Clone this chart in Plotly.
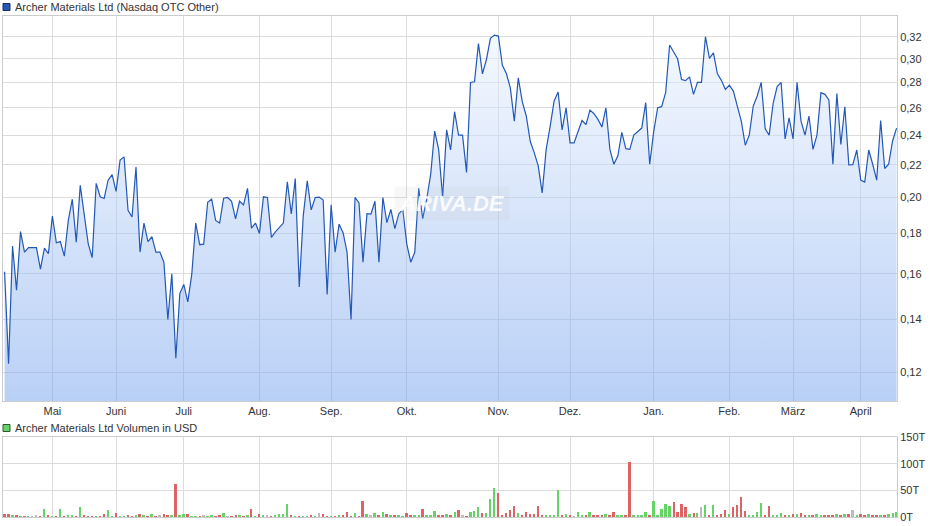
import math
import plotly.graph_objects as go

# ---------------- data ----------------
price = [
    0.161, 0.123, 0.1735, 0.1525, 0.181, 0.1705, 0.1727, 0.1727, 0.1727, 0.1622,
    0.1725, 0.1697, 0.1894, 0.1752, 0.1758, 0.1685, 0.187, 0.199, 0.1755, 0.2072,
    0.1898, 0.1747, 0.1677, 0.2084, 0.2004, 0.1994, 0.2104, 0.2138, 0.2036, 0.2231,
    0.2252, 0.1926, 0.1889, 0.2186, 0.1705, 0.1856, 0.1758, 0.1783, 0.1705, 0.1705,
    0.1655, 0.140, 0.160, 0.125, 0.151, 0.1551, 0.1474, 0.1597, 0.1856, 0.1742,
    0.1745, 0.1972, 0.1991, 0.187, 0.1856, 0.1996, 0.200, 0.1978, 0.1879, 0.1978,
    0.1957, 0.2054, 0.1828, 0.1856, 0.180, 0.2004, 0.200, 0.178, 0.1809, 0.1835,
    0.1856, 0.2094, 0.1906, 0.2114, 0.154, 0.1897, 0.210, 0.1929, 0.200, 0.2002,
    0.1985, 0.1506, 0.1957, 0.1704, 0.185, 0.1804, 0.1704, 0.140, 0.200, 0.1968,
    0.1655, 0.1908, 0.1905, 0.1978, 0.1655, 0.200, 0.1858, 0.1931, 0.1826, 0.1907,
    0.1931, 0.1745, 0.1655, 0.1704, 0.2054, 0.188, 0.199, 0.214, 0.2429, 0.2302,
    0.200, 0.2437, 0.2298, 0.257, 0.240, 0.240, 0.2152, 0.280, 0.2805, 0.3136,
    0.2871, 0.2994, 0.3185, 0.3215, 0.3206, 0.2943, 0.2874, 0.2756, 0.250, 0.2837,
    0.2647, 0.2538, 0.2357, 0.228, 0.2194, 0.2027, 0.2302, 0.2462, 0.2652, 0.2722,
    0.2437, 0.260, 0.2346, 0.2346, 0.243, 0.2505, 0.2475, 0.2582, 0.2555, 0.2513,
    0.2457, 0.260, 0.2302, 0.2204, 0.2259, 0.242, 0.2307, 0.2302, 0.240, 0.2425,
    0.245, 0.2639, 0.2204, 0.2425, 0.260, 0.2608, 0.2717, 0.3124, 0.3061, 0.300,
    0.2823, 0.2815, 0.2846, 0.2704, 0.280, 0.280, 0.320, 0.3003, 0.3052, 0.2871,
    0.2817, 0.2743, 0.2777, 0.273, 0.2613, 0.250, 0.233, 0.240, 0.2613, 0.2691,
    0.280, 0.2445, 0.240, 0.2634, 0.2766, 0.280, 0.2374, 0.2525, 0.2374, 0.280,
    0.250, 0.240, 0.2538, 0.2302, 0.240, 0.2717, 0.2704, 0.266, 0.2204, 0.271,
    0.2335, 0.2608, 0.220, 0.2202, 0.2298, 0.2104, 0.2092, 0.2298, 0.2204, 0.2104,
    0.2505, 0.2177, 0.2204, 0.2361, 0.245,
]
prev_close = 0.165  # close before the first visible day (estimated)

volume_t = [  # in thousands of USD ("T")
    5, 5, 3, 1.5, 1, 1, 1, 1, 3, 1,
    14.5, 2, 1, 1, 14.5, 1, 3, 3, 1, 18,
    3, 1, 1, 1, 1, 5, 12.6, 1, 7.6, 1,
    1, 3, 1, 2, 5, 2, 1, 5, 1, 3,
    6, 3, 2, 62, 4, 5, 5, 1, 1, 1,
    2, 1, 2, 1, 2, 7, 1, 1, 3, 2,
    1, 2, 14.5, 1, 5, 2, 3, 1, 2, 5,
    5, 24, 2, 1, 1, 1, 1, 3, 1, 7,
    5, 1, 1, 1, 3, 2, 9, 1, 7, 1,
    30, 5, 3, 7.6, 2, 9, 5, 3, 2, 3,
    1, 7.6, 2, 3, 3, 14.5, 3, 3, 10.8, 2,
    3, 5, 3, 9, 12.6, 2, 1, 8, 10.8, 18,
    7.6, 7.6, 33.5, 54, 45, 3, 7.6, 12.6, 20, 7.6,
    2, 9, 5, 5, 20, 3, 3, 3, 2, 50,
    2, 5, 2, 1, 9, 2, 3, 9, 2, 2,
    3, 5, 3, 9, 2, 2, 2, 103, 2, 2,
    3, 9, 2, 30, 2, 14, 24, 20, 28, 9,
    24, 18, 6, 7.6, 7.6, 18, 22, 3, 22, 2,
    5, 12.6, 5, 18, 22, 37, 11, 3, 3, 9,
    26, 2, 20, 3, 3, 7, 2, 2, 5, 5,
    7, 2, 2, 4, 5, 2, 2, 3, 2, 5,
    2, 5, 5, 12.6, 2, 5, 3, 5, 3, 2,
    3, 3, 5, 7, 9,
]

month_labels = ["Mai", "Juni", "Juli", "Aug.", "Sep.", "Okt.", "Nov.", "Dez.",
                "Jan.", "Feb.", "März", "April"]
month_start_idx = [12, 28, 45, 64, 82, 101, 124, 142, 163, 182, 198, 215]

price_ticks = [0.12, 0.14, 0.16, 0.18, 0.20, 0.22, 0.24, 0.26, 0.28, 0.30, 0.32, 0.34]
price_tick_text = ["0,12", "0,14", "0,16", "0,18", "0,20", "0,22", "0,24", "0,26",
                   "0,28", "0,30", "0,32", ""]
vol_ticks = [0, 50, 100, 150]
vol_tick_text = ["0T", "50T", "100T", "150T"]

title_price = "Archer Materials Ltd (Nasdaq OTC Other)"
title_volume = "Archer Materials Ltd Volumen in USD"

# ---------------- figure ----------------
W, H = 940, 526
ML, MR, MT, MB = 3, 43, 16, 9
plot_h = H - MT - MB
plot_w = W - ML - MR

def py(pix):  # pixel row -> paper y
    return (H - MB - pix) / plot_h

def px(pix):  # pixel col -> paper x
    return (pix - ML) / plot_w

idx = list(range(len(price)))

GREEN = "#66d366"
RED = "#dc6464"
GRAY = "#bdbdbd"
bar_colors = []
for i, p in enumerate(price):
    prev = prev_close if i == 0 else price[i - 1]
    d = p - prev
    bar_colors.append(GREEN if d > 0.0005 else (RED if d < -0.0005 else GRAY))

y_lo, y_hi = 0.1103, 0.34

fig = go.Figure()
fig.add_trace(go.Scatter(
    x=idx, y=price, mode="lines",
    line=dict(color="#2358b8", width=1.2),
    fill="tozeroy",
    fillgradient=dict(type="vertical",
                      colorscale=[[0, "rgba(115,161,237,0.5)"], [1, "rgba(240,246,255,0.5)"]],
                      start=y_lo, stop=y_hi),
    hoverinfo="skip", showlegend=False, xaxis="x", yaxis="y",
))
fig.add_trace(go.Bar(
    x=idx, y=volume_t, marker=dict(color=bar_colors, line=dict(width=0)),
    width=0.5, hoverinfo="skip", showlegend=False, xaxis="x2", yaxis="y2",
))

font = dict(family="Liberation Sans, Arial, sans-serif", size=11, color="#333333")
grid = "#dcdcdc"
xr = [-0.4, 224.1]
price_dom = [py(401), 1.0]
vol_dom = [0.0, py(437.3)]

fig.update_layout(
    width=W, height=H, margin=dict(l=ML, r=MR, t=MT, b=MB),
    paper_bgcolor="white", plot_bgcolor="white",
    font=font, separators=",.",
    bargap=0,
    xaxis=dict(domain=[0, 1], range=xr, anchor="y", tickmode="array",
               tickvals=month_start_idx, ticktext=month_labels,
               showgrid=True, gridcolor=grid, gridwidth=1, zeroline=False,
               showline=True, linecolor="#cccccc", mirror=True, ticks="",
               tickfont=font),
    yaxis=dict(domain=price_dom, type="log", range=[math.log10(y_lo), math.log10(y_hi)],
               side="right", anchor="x", tickmode="array", tickvals=price_ticks,
               ticktext=price_tick_text, showgrid=True, gridcolor=grid, gridwidth=1,
               zeroline=False, showline=True, linecolor="#cccccc", mirror=True,
               ticks="", tickfont=font),
    xaxis2=dict(domain=[0, 1], range=xr, anchor="y2", tickmode="array",
                tickvals=month_start_idx, showticklabels=False,
                showgrid=True, gridcolor=grid, gridwidth=1, zeroline=False,
                showline=True, linecolor="#cccccc", mirror=True, ticks=""),
    yaxis2=dict(domain=vol_dom, range=[0, 150], side="right", anchor="x2",
                tickmode="array", tickvals=vol_ticks, ticktext=vol_tick_text,
                showgrid=True, gridcolor=grid, gridwidth=1, zeroline=False,
                showline=True, linecolor="#cccccc", mirror=True, ticks="",
                tickfont=font),
)

# legend-like headers
fig.add_shape(type="rect", xref="paper", yref="paper",
              x0=px(3), x1=px(10), y0=py(10.5), y1=py(3.5),
              fillcolor="#2358b8", line=dict(color="#1a2f5a", width=1))
fig.add_annotation(xref="paper", yref="paper", x=px(13), y=py(7), xanchor="left",
                   yanchor="middle", text=title_price, showarrow=False, font=font)
fig.add_shape(type="rect", xref="paper", yref="paper",
              x0=px(3), x1=px(10), y0=py(431.5), y1=py(424.5),
              fillcolor="#66d366", line=dict(color="#2e5a2e", width=1))
fig.add_annotation(xref="paper", yref="paper", x=px(13), y=py(428), xanchor="left",
                   yanchor="middle", text=title_volume, showarrow=False, font=font)

# watermark
fig.add_annotation(xref="paper", yref="paper", x=px(452), y=py(203),
                   text="<b><i>ARIVA.DE</i></b>", showarrow=False,
                   font=dict(family="Liberation Sans, Arial, sans-serif", size=22,
                             color="rgba(255,255,255,0.85)"),
                   bgcolor="rgba(190,190,190,0.13)", borderpad=4)

fig.write_html("out.html", config={"displayModeBar": False},
               post_script="document.body.style.margin='0';")
